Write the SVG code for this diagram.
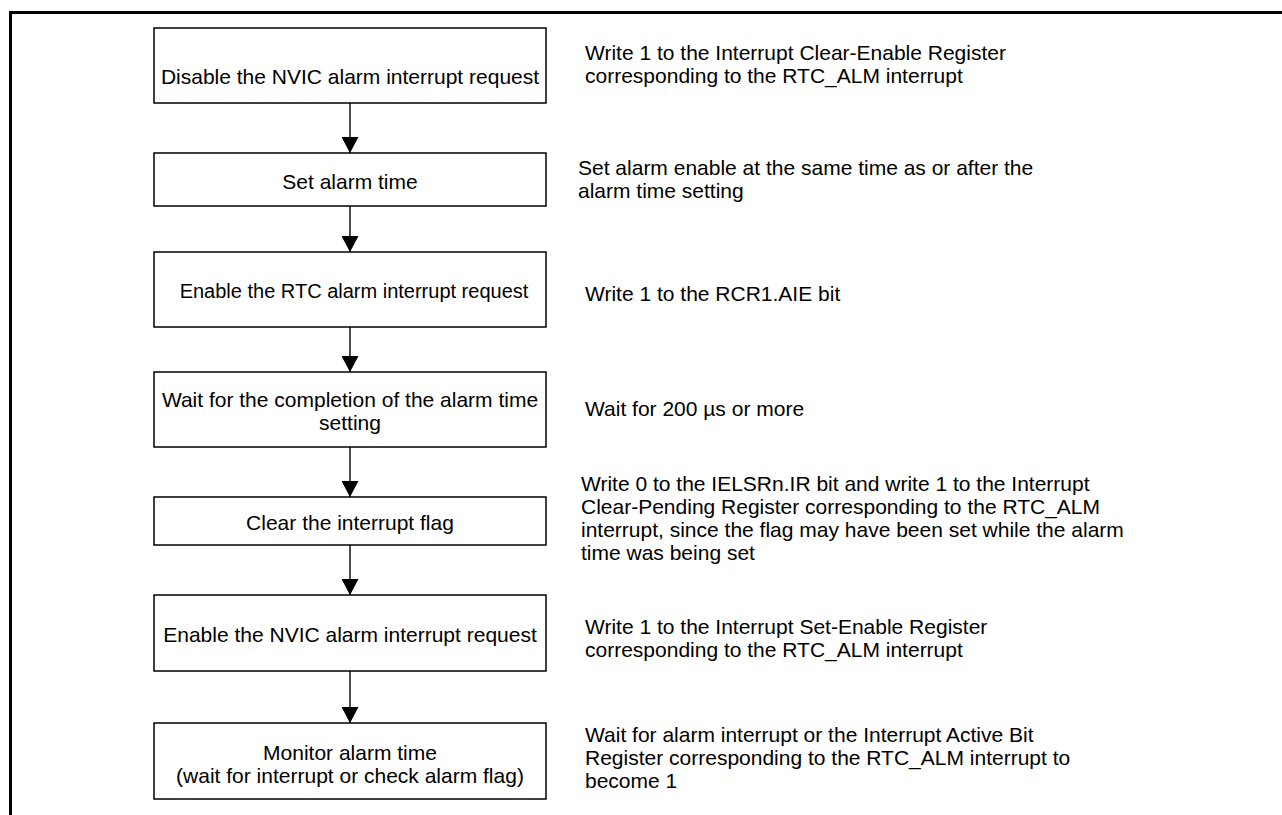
<svg xmlns="http://www.w3.org/2000/svg" width="1282" height="815" viewBox="0 0 1282 815">
<defs>
<style>
.box{fill:#fff;stroke:#000;stroke-width:1.5}
.t{font-family:"Liberation Sans",Arial,sans-serif;font-size:21px;fill:#000}
.s{font-size:20px}
.c{text-anchor:middle}
.ln{stroke:#000;stroke-width:1.4;fill:none}
.frame{stroke:#000;stroke-width:3;fill:none}
</style>
<marker id="ah" markerWidth="16" markerHeight="17" refX="16" refY="8.5" orient="auto" markerUnits="userSpaceOnUse" viewBox="0 0 16 17">
<path d="M0,0 L16,8.5 L0,17 Z" fill="#000"/>
</marker>
</defs>
<rect width="1282" height="815" fill="#fff"/>
<path class="frame" d="M10.5,815 L10.5,12.5 L1282,12.5"/>
<g id="connectors">
<line class="ln" x1="350" y1="103" x2="350" y2="153" marker-end="url(#ah)"/>
<line class="ln" x1="350" y1="206" x2="350" y2="252" marker-end="url(#ah)"/>
<line class="ln" x1="350" y1="327" x2="350" y2="372" marker-end="url(#ah)"/>
<line class="ln" x1="350" y1="447" x2="350" y2="497" marker-end="url(#ah)"/>
<line class="ln" x1="350" y1="545" x2="350" y2="595" marker-end="url(#ah)"/>
<line class="ln" x1="350" y1="671" x2="350" y2="723" marker-end="url(#ah)"/>
</g>
<g id="n1">
<rect class="box" x="154" y="28" width="392" height="75"/>
<text class="t c" x="350" y="84">Disable the NVIC alarm interrupt request</text>
</g>
<g id="n2">
<rect class="box" x="154" y="153" width="392" height="53"/>
<text class="t c" x="350" y="189">Set alarm time</text>
</g>
<g id="n3">
<rect class="box" x="154" y="252" width="392" height="75"/>
<text class="t s c" x="354" y="298">Enable the RTC alarm interrupt request</text>
</g>
<g id="n4">
<rect class="box" x="154" y="372" width="392" height="75"/>
<text class="t c" x="350" y="407">Wait for the completion of the alarm time</text>
<text class="t c" x="350" y="430">setting</text>
</g>
<g id="n5">
<rect class="box" x="154" y="497" width="392" height="48"/>
<text class="t c" x="350" y="530">Clear the interrupt flag</text>
</g>
<g id="n6">
<rect class="box" x="154" y="595" width="392" height="76"/>
<text class="t c" x="350" y="642">Enable the NVIC alarm interrupt request</text>
</g>
<g id="n7">
<rect class="box" x="154" y="723" width="392" height="76"/>
<text class="t c" x="350" y="760">Monitor alarm time</text>
<text class="t c" x="350" y="783">(wait for interrupt or check alarm flag)</text>
</g>
<g id="notes">
<text class="t" x="585" y="60">Write 1 to the Interrupt Clear-Enable Register</text>
<text class="t" x="585" y="83">corresponding to the RTC_ALM interrupt</text>
<text class="t" x="578" y="175">Set alarm enable at the same time as or after the</text>
<text class="t" x="578" y="198">alarm time setting</text>
<text class="t" x="585" y="301">Write 1 to the RCR1.AIE bit</text>
<text class="t" x="585" y="416">Wait for 200 µs or more</text>
<text class="t" x="581" y="491">Write 0 to the IELSRn.IR bit and write 1 to the Interrupt</text>
<text class="t" x="581" y="514">Clear-Pending Register corresponding to the RTC_ALM</text>
<text class="t" x="581" y="537">interrupt, since the flag may have been set while the alarm</text>
<text class="t" x="581" y="560">time was being set</text>
<text class="t" x="585" y="634">Write 1 to the Interrupt Set-Enable Register</text>
<text class="t" x="585" y="657">corresponding to the RTC_ALM interrupt</text>
<text class="t" x="585" y="742">Wait for alarm interrupt or the Interrupt Active Bit</text>
<text class="t" x="585" y="765">Register corresponding to the RTC_ALM interrupt to</text>
<text class="t" x="585" y="788">become 1</text>
</g>
</svg>
